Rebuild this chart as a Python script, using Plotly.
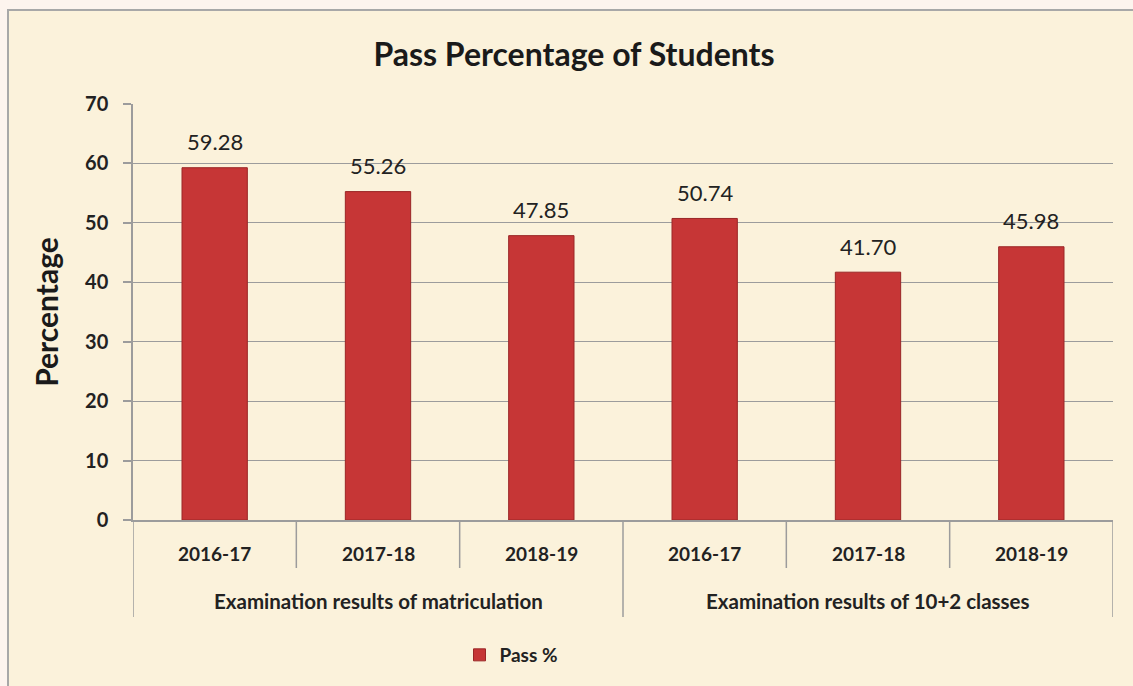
import plotly.graph_objects as go

groups = ["Examination results of matriculation", "Examination results of 10+2 classes"]
years = ["2016-17", "2017-18", "2018-19", "2016-17", "2017-18", "2018-19"]
pass_pct = [59.28, 55.26, 47.85, 50.74, 41.70, 45.98]
y_ticks = [0, 10, 20, 30, 40, 50, 60, 70]

W, H = 1133, 686
L, R, T, B = 133, 20, 104, 166
pw, ph = W - L - R, H - T - B

def px(x):
    return (x - L) / pw

def py(y):
    return (H - B - y) / ph

FONT = "Lato, Open Sans, sans-serif"
GRID = "#9C9C9C"
xpos = list(range(len(years)))

fig = go.Figure()
fig.add_trace(go.Bar(
    x=xpos, y=pass_pct, name="Pass %",
    width=0.4,
    marker=dict(color="#C63636", line=dict(color="#9A2626", width=1)),
    cliponaxis=False,
))

shapes = [dict(type="rect", xref="paper", yref="paper", layer="below",
               x0=px(8), x1=px(1140), y0=py(700), y1=py(10),
               fillcolor="#FBF2DB", line=dict(color="#A8A8A8", width=2))]
annotations = []
# value labels
for i, v in enumerate(pass_pct):
    annotations.append(dict(x=i, xref="x", y=v, yref="y", text=f"{v:.2f}", yshift=26,
                            showarrow=False, font=dict(size=22, color="#222"),
                            xanchor="center", yanchor="middle"))
# year labels and short ticks
for i, yr in enumerate(years):
    annotations.append(dict(x=i, xref="x", y=py(553), yref="paper", text=f"<b>{yr}</b>",
                            showarrow=False, font=dict(size=19, color="#222"),
                            xanchor="center", yanchor="middle"))
for b in [0.5, 1.5, 3.5, 4.5]:
    shapes.append(dict(type="line", xref="x", yref="paper", x0=b, x1=b,
                       y0=py(520), y1=py(568), line=dict(color=GRID, width=1.5)))
for b in [-0.5, 2.5, 5.5]:
    shapes.append(dict(type="line", xref="x", yref="paper", x0=b, x1=b,
                       y0=py(520), y1=py(617), line=dict(color=GRID, width=1.5)))
# group labels
for g, grp in enumerate(groups):
    annotations.append(dict(x=g * 3 + 1, xref="x", y=py(601), yref="paper", text=f"<b>{grp}</b>",
                            showarrow=False, font=dict(size=20.5, color="#222"),
                            xanchor="center", yanchor="middle"))

fig.update_layout(
    width=W, height=H,
    margin=dict(l=L, r=R, t=T, b=B, autoexpand=False),
    paper_bgcolor="#FDF4EE",
    plot_bgcolor="rgba(0,0,0,0)",
    font=dict(family=FONT, color="#222"),
    title=dict(text="<b>Pass Percentage of Students</b>", x=574 / W, xanchor="center",
               y=1 - 55 / H, yanchor="middle", font=dict(size=32, color="#1a1a1a")),
    showlegend=True,
    legend=dict(orientation="h", x=px(511), xanchor="center", y=py(655), yanchor="middle",
                font=dict(size=19, color="#222", weight="bold"), bgcolor="rgba(0,0,0,0)",
                itemwidth=30),
    shapes=shapes,
    annotations=annotations,
)
fig.update_xaxes(
    range=[-0.5, 5.5], showticklabels=False, ticks="",
    showline=True, linecolor=GRID, linewidth=1.5,
    showgrid=False, zeroline=False, automargin=False,
)
fig.update_yaxes(
    range=[0, 70], tickvals=y_ticks, ticktext=[f"<b>{v}</b>" for v in y_ticks],
    tickfont=dict(size=20, color="#222"), ticklabelstandoff=11,
    showgrid=True, gridcolor=GRID, gridwidth=1.3,
    showline=True, linecolor=GRID, linewidth=1.5,
    ticks="outside", ticklen=8, tickcolor=GRID, tickwidth=1.5,
    title=dict(text="<b>Percentage</b>", font=dict(size=30, color="#1a1a1a"), standoff=18),
    zeroline=False, automargin=False,
)

fig.write_html("out.html", config={"displayModeBar": False},
               post_script="document.body.style.margin='0';document.body.style.padding='0';")
